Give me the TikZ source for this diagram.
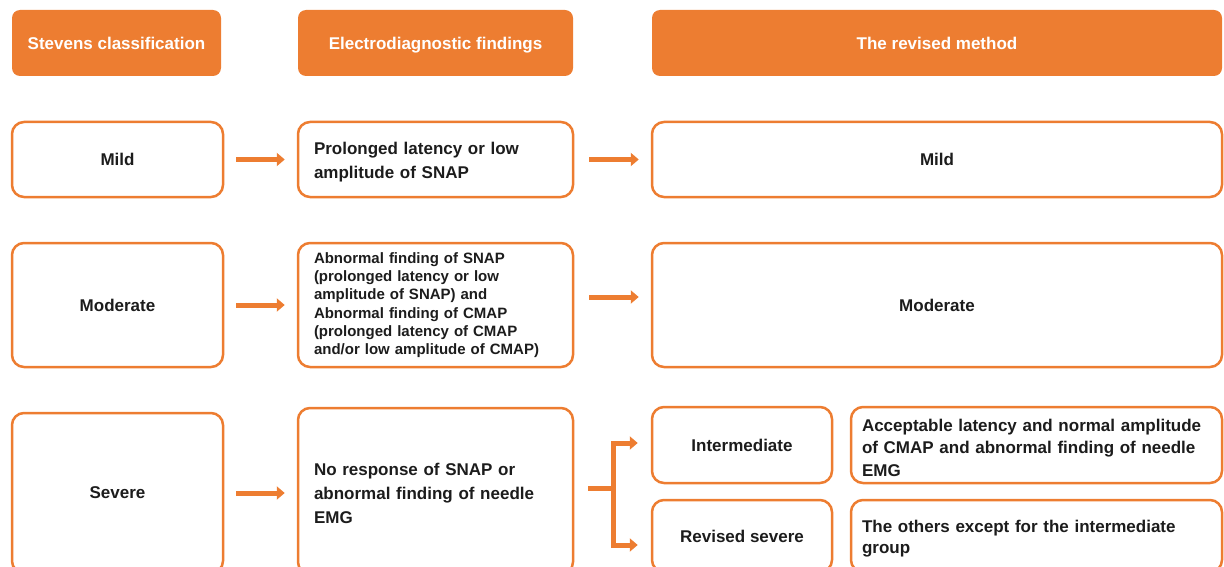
\documentclass[tikz,border=0pt]{standalone}
\usepackage{fontspec}
\setmainfont{Liberation Sans}
\usetikzlibrary{arrows.meta,positioning,calc}
\definecolor{orng}{HTML}{ED7D31}
\definecolor{ink}{HTML}{1C1C1C}
\tikzset{every picture/.style={line width=0.75pt}}
\tikzset{
    head/.style={rectangle, rounded corners=8pt, fill=orng, text=white,
        font=\bfseries\fontsize{17}{20}\selectfont, minimum height=66pt,
        text height=12.4pt, text depth=0pt},
    cell/.style={rectangle, rounded corners=12pt, draw=orng, line width=2.5pt,
        text=ink, font=\bfseries\fontsize{17}{24}\selectfont},
    txtcell/.style={cell, align=left, inner xsep=16pt, text width=243pt},
    defcell/.style={cell, align=left, inner xsep=11pt, text width=349pt},
    arr/.style={orng, line width=5pt, -{Triangle[length=8pt,width=13pt]}},
    bar/.style={orng, line width=5pt}
}
\newcommand{\lift}[1]{\rule{0pt}{#1}}

\begin{document}
\begin{tikzpicture}[x=1pt, y=-1pt]
    \useasboundingbox (0,0) rectangle (1224,567);

    % column heads
    \node[head, minimum width=209pt] (hstev) at (116.5,43) {Stevens classification};
    \node[head, minimum width=275pt] (hfind) at (435.5,43) {Electrodiagnostic findings};
    \node[head, minimum width=570pt] (hrev) at (937,43) {The revised method};

    % mild row
    \node[cell, minimum width=211pt, minimum height=75pt] (mild) at (117.5,159.5) {Mild};
    \node[txtcell, minimum height=75pt] (mildfind) at (435.5,159.5)
        {\lift{18pt}Prolonged latency or low\\amplitude of SNAP};
    \node[cell, minimum width=570pt, minimum height=75pt] (mildrev) at (937,159.5) {Mild};

    % moderate row
    \node[cell, minimum width=211pt, minimum height=124pt] (mod) at (117.5,305) {Moderate};
    \node[txtcell, minimum height=124pt, font=\bfseries\fontsize{15}{18.3}\selectfont] (modfind) at (435.5,305)
        {Abnormal finding of SNAP\\(prolonged latency or low\\amplitude of SNAP) and\\Abnormal finding of CMAP\\(prolonged latency of CMAP\\and/or low amplitude of CMAP)};
    \node[cell, minimum width=570pt, minimum height=124pt] (modrev) at (937,305) {Moderate};

    % severe row (runs past the lower edge)
    \node[cell, minimum width=211pt, minimum height=160pt] (sev) at (117.5,493) {Severe};
    \node[txtcell, minimum height=166pt] (sevfind) at (435.5,491)
        {\lift{18pt}No response of SNAP or\\abnormal finding of needle\\EMG};
    \node[cell, minimum width=180pt, minimum height=76pt] (inter) at (742,445) {Intermediate};
    \node[cell, minimum width=180pt, minimum height=72pt] (rsev) at (742,536) {Revised severe};
    \node[defcell, minimum height=76pt, font=\bfseries\fontsize{17}{22.5}\selectfont] (interdef) at (1036.5,445)
        {\lift{17.5pt}Acceptable latency and normal amplitude\\of CMAP and abnormal finding of needle\\EMG};
    \node[defcell, minimum height=72pt, font=\bfseries\fontsize{17}{21}\selectfont] (rsevdef) at (1036.5,536)
        {\lift{17.5pt}The others except for the intermediate\\group};

    % arrows between columns
    \draw[arr] ([xshift=12pt]mild.east) -- ([xshift=-12pt]mildfind.west);
    \draw[arr] ([xshift=15pt]mildfind.east) -- ([xshift=-12pt]mildrev.west);
    \draw[arr] ([xshift=12pt]mod.east) -- ([xshift=-12pt]modfind.west);
    \draw[arr] ([xshift=15pt,yshift=8pt]modfind.east) -- ([xshift=-12pt,yshift=8pt]modrev.west);
    \draw[arr] ([xshift=12pt]sev.east) -- ([xshift=-12pt,yshift=-2pt]sevfind.west);

    % split into intermediate and revised severe
    \coordinate (fork) at (613,488);
    \draw[bar] ([xshift=14pt]sevfind.east |- fork) -- (fork);
    \draw[arr] (fork) |- ([xshift=-13pt,yshift=2pt]inter.west);
    \draw[arr] (fork) |- ([xshift=-13pt,yshift=-9pt]rsev.west);
\end{tikzpicture}
\end{document}
